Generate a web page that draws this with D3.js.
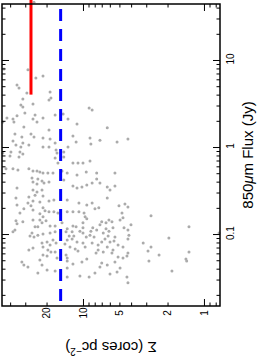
<!DOCTYPE html>
<html><head><meta charset="utf-8">
<script src="https://cdn.jsdelivr.net/npm/d3@7"></script>
<style>html,body{margin:0;padding:0;background:#fff;} svg{display:block;}</style>
</head><body>
<svg id="chart" width="260" height="360"></svg>
<script>
// ---- data ----
// each point: [surface density Σ (cores pc^-2), 850μm flux (Jy)]
const cores = [
[25.4,46],[45.0,7.9],[28.5,7.7],[24.5,6.2],[21.4,6.55],[35.1,5.16],[33.8,4.76],[29.1,4.18],[18.7,4.29],[31.4,3.56],[19.1,3.47],[18.4,3.66],[25.9,3.12],[32.6,3.04],[31.4,2.88],[8.9,2.81],[8.4,2.66],[17.0,2.34],[14.6,2.40],[35.1,2.28],[42.5,2.16],[37.9,2.10],[30.2,2.46],[24.9,2.34],[21.4,2.16],[13.3,2.10],[25.9,2.10],
[37.2,1.94],[30.8,1.70],[24.0,1.94],[19.1,1.57],[11.2,1.84],[6.3,1.66],[4.25,1.24],[46,1.94],
[36.5,1.41],[32.0,1.30],[26.9,1.41],[25.4,1.30],[21.4,1.27],[18.7,1.24],[12.1,1.34],[8.75,1.27],[7.24,1.20],[37.9,1.17],[35.8,1.055],[32.6,1.00],[31.4,1.11],[28.0,1.055],[21.4,1.00],[19.1,1.00],[17.0,1.11],[13.3,1.00],[11.4,1.14],[8.6,1.08],[5.23,1.14],
[46,0.854],[39.4,0.877],[40.1,0.79],[33.2,0.877],[31.4,0.832],[33.8,0.77],[16.4,0.854],[17.0,0.75],[16.1,0.656],[14.4,0.877],[14.4,0.77],[12.1,0.656],[11.0,0.656],[10.0,0.656],[8.75,0.69],[16.7,0.924],
[43.3,0.563],[37.9,0.563],[34.5,0.544],[28.0,0.563],[25.9,0.530],[24.0,0.530],[22.7,0.516],[21.4,0.503],[19.5,0.503],[17.7,0.503],[14.9,0.530],[13.5,0.503],[11.2,0.477],[9.4,0.516],[7.7,0.503],[5.44,0.503],[26.4,0.44],[23.6,0.43],[21.8,0.407],[14.4,0.418],[7.7,0.43],[21.0,0.386],[19.1,0.397],
[25.9,0.397],[24.0,0.376],[25.9,0.321],[24.0,0.305],[24.9,0.28],[21.8,0.321],[21.4,0.274],[28.0,0.267],[35.8,0.26],[35.1,0.339],[12.1,0.357],[11.2,0.339],[10.2,0.348],[9.3,0.366],[8.4,0.386],[7.24,0.386],[6.3,0.348],[5.98,0.321],[5.44,0.357],[6.3,0.26],[13.5,0.246],[19.1,0.240],
[17.4,0.246],[25.9,0.240],[22.7,0.234],[35.1,0.216],[28.5,0.228],[26.9,0.211],[30.8,0.195],[33.2,0.175],[25.9,0.189],[21.4,0.200],[20.6,0.185],[19.1,0.180],[17.4,0.180],[16.1,0.175],[22.7,0.171],[21.4,0.158],[13.5,0.180],[10.8,0.228],[9.3,0.216],[8.4,0.228],[12.1,0.180],[10.8,0.180],[9.8,0.175],[7.96,0.195],[7.4,0.200],[5.04,0.211],[4.50,0.222],[4.76,0.175],[4.25,0.205],
[22.7,0.145],[21.8,0.135],[35.8,0.142],[35.1,0.131],[31.4,0.138],[25.9,0.145],[20.2,0.142],[24.9,0.121],[23.6,0.121],[18.7,0.124],[17.0,0.124],[14.9,0.135],[13.5,0.115],[36.5,0.111],[37.9,0.106],[26.4,0.103],[27.4,0.095],[25.4,0.0925],[23.6,0.097],[21.4,0.100],[18.7,0.103],[17.0,0.106],[13.8,0.106],[13.0,0.095],[12.3,0.106],[12.1,0.124],[11.4,0.121],[10.0,0.135],[9.6,0.158],[9.3,0.150],[7.0,0.138],[6.45,0.135],[6.1,0.145],[5.76,0.138],[4.94,0.145],[4.67,0.154],[4.01,0.128],[10.0,0.118],[8.3,0.118],[8.6,0.108],[7.7,0.111],[7.24,0.128],[6.45,0.115],[6.1,0.108],[5.65,0.118],[4.58,0.118],[4.25,0.111],[10.6,0.108],[10.0,0.103],[6.8,0.103],[11.9,0.095],[8.75,0.097],[8.1,0.0925],[6.2,0.095],[5.44,0.0925],[4.17,0.097],[9.4,0.0925],[2.74,0.162],[1.33,0.121],[0.75,0.103],
[17.7,0.0853],[16.7,0.0789],[19.8,0.081],[13.5,0.0853],[14.1,0.0768],[21.8,0.0789],[28.0,0.0655],[25.9,0.069],[21.4,0.071],[18.7,0.0749],[19.5,0.0655],[18.4,0.0622],[17.0,0.0622],[21.4,0.0575],[13.8,0.0575],[13.5,0.0531],[16.4,0.0531],[22.7,0.0502],[19.8,0.056],[12.3,0.0877],[11.2,0.081],[10.0,0.0789],[8.4,0.0789],[7.5,0.0749],[7.0,0.081],[6.58,0.0877],[5.98,0.081],[5.54,0.0831],[4.25,0.0877],[12.8,0.071],[11.6,0.0673],[11.0,0.0638],[9.6,0.071],[7.5,0.0655],[6.8,0.0622],[6.3,0.071],[5.65,0.0655],[5.13,0.0749],[4.67,0.071],[5.13,0.0545],[4.33,0.056],[4.25,0.0606],[9.3,0.0517],[7.8,0.0606],[5.76,0.0606],[4.67,0.0531],[3.18,0.0789],[2.74,0.071],[2.90,0.0638],[2.35,0.0575],[1.33,0.0622],[1.95,0.090],
[32.0,0.0477],[30.8,0.0441],[28.5,0.0418],[21.8,0.0441],[23.6,0.0356],[19.8,0.0385],[17.0,0.0375],[13.5,0.0407],[13.5,0.0489],[12.1,0.0453],[10.2,0.0477],[10.6,0.0329],[7.96,0.0356],[7.24,0.0418],[7.0,0.0465],[6.3,0.0441],[5.98,0.0347],[5.44,0.0477],[5.23,0.0366],[4.94,0.0407],[4.25,0.0275],[13.5,0.0321],[8.9,0.0321],[4.33,0.0321],[2.85,0.0489],[1.41,0.0517],[1.39,0.0489],[1.84,0.0375]
];
const sigmaTickLabels = [20, 10, 5, 2, 1];
const fluxTickLabels = [10, 1, 0.1];
const sigmaDomain = [46.7, 0.737];
const fluxDomain = [44, 0.0149];
const redLine = { sigma: 26.9, fluxLow: 4.0, fluxHigh: 50 };
const blueLine = { sigma: 15.3 };
const sigmaTitle = "Σ (cores pc";
const sigmaTitleSup = "−2";
const fluxTitle = ["850", "μ", "m Flux (Jy)"];

// ---- layout ----
const frame = { left: 2, right: 220, top: 4, bottom: 306 };
const svg = d3.select('#chart');
const FONT = "'Liberation Sans', Arial, Helvetica, sans-serif";

const x = d3.scaleLog().domain(sigmaDomain).range([frame.left, frame.right]);
const y = d3.scaleLog().domain(fluxDomain).range([frame.top, frame.bottom]);

const isMajor = d => Math.abs(Math.log10(d) - Math.round(Math.log10(d))) < 1e-6;
const MAJ = 7, MIN = 3.5;

// points
svg.append('g').selectAll('circle').data(cores).join('circle')
  .attr('cx', d => x(d[0])).attr('cy', d => y(d[1]))
  .attr('r', 1.5).attr('fill', '#ababab');

// reference lines
svg.append('line')
  .attr('x1', x(blueLine.sigma)).attr('x2', x(blueLine.sigma))
  .attr('y1', frame.top).attr('y2', frame.bottom)
  .attr('stroke', '#0000ff').attr('stroke-width', 3)
  .attr('stroke-dasharray', '12,8').attr('stroke-dashoffset', 15);
svg.append('line')
  .attr('x1', x(redLine.sigma)).attr('x2', x(redLine.sigma))
  .attr('y1', y(redLine.fluxHigh)).attr('y2', y(redLine.fluxLow))
  .attr('stroke', '#ff0000').attr('stroke-width', 3);

// axes with inward ticks
function styleTicks(g, sign) {
  g.select('.domain').remove();
  g.selectAll('.tick line').attr('stroke', '#000').attr('stroke-width', 1);
  g.selectAll('.tick text').remove();
}
const xt = x.ticks(), yt = y.ticks();
const bottomAx = svg.append('g').attr('transform', `translate(0,${frame.bottom})`)
  .call(d3.axisBottom(x).tickValues(xt).tickSize(-MIN).tickSizeOuter(0).tickFormat(''));
bottomAx.selectAll('.tick line').attr('y2', d => isMajor(d) ? -MAJ : -MIN);
styleTicks(bottomAx);
const topAx = svg.append('g').attr('transform', `translate(0,${frame.top})`)
  .call(d3.axisTop(x).tickValues(xt).tickSize(-MIN).tickSizeOuter(0).tickFormat(''));
topAx.selectAll('.tick line').attr('y2', d => isMajor(d) ? MAJ : MIN);
styleTicks(topAx);
const rightAx = svg.append('g').attr('transform', `translate(${frame.right},0)`)
  .call(d3.axisRight(y).tickValues(yt).tickSize(-MIN).tickSizeOuter(0).tickFormat(''));
rightAx.selectAll('.tick line').attr('x2', d => isMajor(d) ? -MAJ : -MIN);
styleTicks(rightAx);
const leftAx = svg.append('g').attr('transform', `translate(${frame.left},0)`)
  .call(d3.axisLeft(y).tickValues(yt).tickSize(-MIN).tickSizeOuter(0).tickFormat(''));
leftAx.selectAll('.tick line').attr('x2', d => isMajor(d) ? MAJ : MIN);
styleTicks(leftAx);

// frame
svg.append('rect')
  .attr('x', frame.left).attr('y', frame.top)
  .attr('width', frame.right - frame.left).attr('height', frame.bottom - frame.top)
  .attr('fill', 'none').attr('stroke', '#000').attr('stroke-width', 1.5);

// tick labels (rotated)
const fmt = d => d3.format('~g')(d);
svg.append('g').selectAll('text').data(sigmaTickLabels).join('text')
  .attr('transform', d => `translate(${x(d) + 3.6},${frame.bottom + 7}) rotate(-90)`)
  .attr('text-anchor', 'middle').attr('font-family', FONT).attr('font-size', 10)
  .attr('fill', '#000').text(fmt);
svg.append('g').selectAll('text').data(fluxTickLabels).join('text')
  .attr('transform', d => `translate(${frame.right + 14},${y(d) - 1}) rotate(-90)`)
  .attr('text-anchor', 'middle').attr('font-family', FONT).attr('font-size', 10)
  .attr('fill', '#000').text(fmt);

// axis titles
const ft = svg.append('text')
  .attr('transform', `translate(253,${(frame.top + frame.bottom) / 2}) rotate(-90)`)
  .attr('text-anchor', 'middle').attr('font-family', FONT).attr('font-size', 15).attr('fill', '#000');
ft.append('tspan').text(fluxTitle[0]);
ft.append('tspan').attr('font-style', 'italic').text(fluxTitle[1]);
ft.append('tspan').text(fluxTitle[2]);

const st = svg.append('text')
  .attr('transform', `translate(${(frame.left + frame.right) / 2},342) rotate(180)`)
  .attr('text-anchor', 'middle').attr('font-family', FONT).attr('font-size', 15).attr('fill', '#000');
st.append('tspan').text(sigmaTitle);
st.append('tspan').attr('font-size', 10).attr('dy', -6).text(sigmaTitleSup);
st.append('tspan').attr('dy', 6).text(')');
</script>
</body></html>
